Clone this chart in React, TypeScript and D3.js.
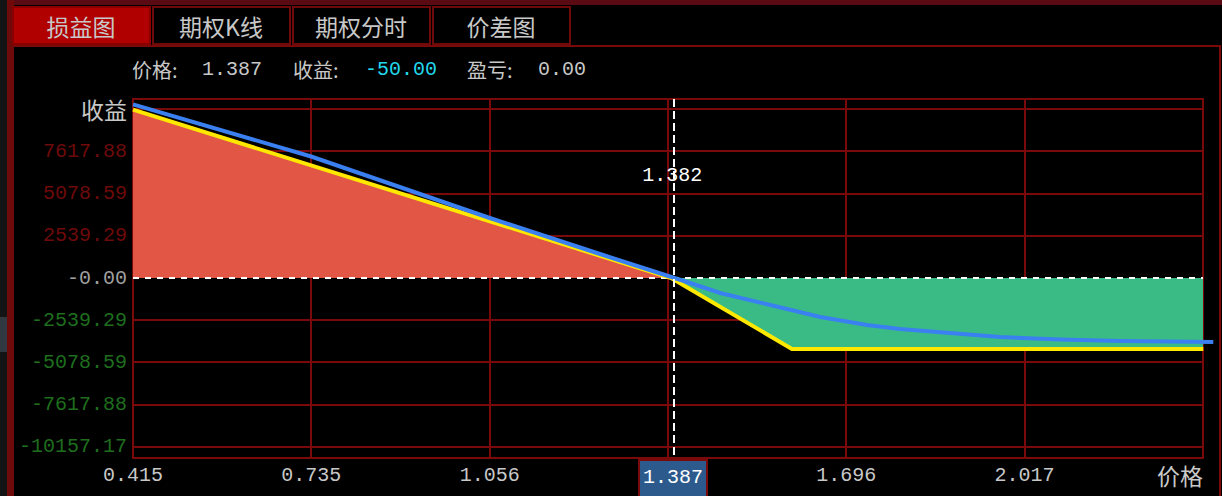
import React from 'react';
import * as d3 from 'd3';

const W = 1222;
const H = 496;

// Profit at expiry, by underlying price
const expiryPrice = [0.415, 1.382, 1.599, 2.338];
const expiryProfit = [10130, 0, -4272, -4272];

// Current theoretical profit, by underlying price
const currentPrice = [0.415, 0.735, 1.056, 1.254, 1.388, 1.416, 1.47, 1.56, 1.65, 1.734, 1.793, 1.883, 1.973, 2.081, 2.189, 2.356];
const currentProfit = [10450, 7311, 3610, 1444, 0, -301, -903, -1625, -2347, -2828, -3069, -3309, -3550, -3700, -3791, -3851];

const yTickValues = [10157.17, 7617.88, 5078.59, 2539.29, 0, -2539.29, -5078.59, -7617.88, -10157.17];
const yTickLabels = ['收益', '7617.88', '5078.59', '2539.29', '-0.00', '-2539.29', '-5078.59', '-7617.88', '-10157.17'];
const xTickValues = [0.415, 0.7355, 1.056, 1.3765, 1.6965, 2.017, 2.3375];
// the tick under the cursor is replaced by the cursor's price box
const xTickLabels = ['0.415', '0.735', '1.056', '', '1.696', '2.017', '价格'];
const tabs = ['损益图', '期权K线', '期权分时', '价差图'];

const cursorPrice = 1.387;
const cursorProfit = -50.0;
const cursorPnl = 0.0;
const breakEven = 1.382;

const MONO = "'Liberation Mono', 'DejaVu Sans Mono', 'Noto Sans CJK SC', monospace";
const CJK = "'Noto Sans CJK SC', sans-serif";
const GRID = '#7a0a0a';
const TEXT = '#c8c8c8';

export default function App() {
  const left = 133;
  const right = 1203;
  const top = 99;
  const bottom = 458;

  const x = d3.scaleLinear().domain([0.415, 2.3375]).range([left, right]);
  const y = d3.scaleLinear().domain([-10831, 10771]).range([bottom, top]);

  const expiry = expiryPrice.map((p, i) => [p, expiryProfit[i]] as [number, number]);
  const current = currentPrice.map((p, i) => [p, currentProfit[i]] as [number, number]);

  const area = d3
    .area<[number, number]>()
    .x((d) => x(d[0]))
    .y0(y(0))
    .y1((d) => y(d[1]));
  const line = d3
    .line<[number, number]>()
    .x((d) => x(d[0]))
    .y((d) => y(d[1]));

  const y0 = y(0);
  const cx = x(cursorPrice);

  const labelColor = (v: number, i: number) => {
    if (i === 0) return TEXT;
    if (v > 0) return '#6e0a0a';
    if (v < 0) return '#1e6e1e';
    return '#a0a0a0';
  };

  return (
    <svg
      width={W}
      height={H}
      style={{ position: 'fixed', left: 0, top: 0, background: '#000', display: 'block' }}
      fontFamily={MONO}
      fontSize={20}
    >
      <rect x={0} y={0} width={W} height={H} fill="#000" />
      {/* window chrome */}
      <rect x={0} y={0} width={W} height={5} fill="#5a0a12" />
      <rect x={0} y={0} width={7} height={H} fill="#141414" />
      <rect x={0} y={317} width={7} height={35} fill="#323840" />
      <rect x={7} y={0} width={7} height={H} fill="#6e0a0a" />
      <line x1={14} x2={1221} y1={46} y2={46} stroke={GRID} strokeWidth={2} shapeRendering="crispEdges" />
      <line x1={1220} x2={1220} y1={46} y2={H} stroke={GRID} strokeWidth={2} shapeRendering="crispEdges" />

      {/* tabs */}
      {tabs.map((t, i) => {
        const tx = 13 + i * 140;
        return (
          <g key={t}>
            <rect
              x={tx}
              y={7}
              width={137}
              height={37}
              fill={i === 0 ? '#b00000' : '#000'}
              stroke={i === 0 ? '#8a0000' : '#6e0a0a'}
              strokeWidth={2}
              shapeRendering="crispEdges"
            />
            <text x={tx + 68} y={26} textAnchor="middle" dominantBaseline="central" fill={TEXT} fontFamily={CJK} fontSize={23}>
              {t}
            </text>
          </g>
        );
      })}

      {/* readout */}
      <text y={69} dominantBaseline="central" fill={TEXT}>
        <tspan x={132} fontFamily={CJK}>价格:</tspan>
        <tspan x={202}>{cursorPrice.toFixed(3)}</tspan>
        <tspan x={293} fontFamily={CJK}>收益:</tspan>
        <tspan x={365} fill="#22d8ec">{cursorProfit.toFixed(2)}</tspan>
        <tspan x={467} fontFamily={CJK}>盈亏:</tspan>
        <tspan x={538}>{cursorPnl.toFixed(2)}</tspan>
      </text>

      {/* grid */}
      <g stroke={GRID} strokeWidth={2} shapeRendering="crispEdges">
        <rect x={left} y={top} width={right - left} height={bottom - top} fill="none" />
        {yTickValues.map((v) => (v === 0 ? null : <line key={v} x1={left} x2={right} y1={y(v)} y2={y(v)} />))}
        {xTickValues.map((v) => (
          <line key={v} x1={x(v)} x2={x(v)} y1={top} y2={bottom} />
        ))}
      </g>

      {/* y labels */}
      {yTickValues.map((v, i) => (
        <text
          key={v}
          x={127}
          y={y(v)}
          textAnchor="end"
          dominantBaseline="central"
          fill={labelColor(v, i)}
          fontFamily={i === 0 ? CJK : MONO}
          fontSize={i === 0 ? 23 : 20}
        >
          {yTickLabels[i]}
        </text>
      ))}

      {/* x labels */}
      {xTickValues.map((v, i) => {
        const last = i === xTickValues.length - 1;
        return xTickLabels[i] ? (
          <text
            key={v}
            x={last ? x(v) - 23 : x(v)}
            y={475}
            textAnchor="middle"
            dominantBaseline="central"
            fill={TEXT}
            fontFamily={last ? CJK : MONO}
            fontSize={last ? 23 : 20}
          >
            {xTickLabels[i]}
          </text>
        ) : null;
      })}

      {/* profit areas at expiry */}
      <defs>
        <clipPath id="above">
          <rect x={left} y={top} width={right - left} height={y0 - top} />
        </clipPath>
        <clipPath id="below">
          <rect x={left} y={y0} width={right - left} height={bottom - y0} />
        </clipPath>
      </defs>
      <path d={area(expiry) ?? ''} fill="#e25646" clipPath="url(#above)" />
      <path d={area(expiry) ?? ''} fill="#3abb85" clipPath="url(#below)" />

      {/* zero line */}
      <line x1={left} x2={right} y1={y0} y2={y0} stroke="#fff" strokeWidth={2} strokeDasharray="6 6" shapeRendering="crispEdges" />

      {/* curves */}
      <path d={line(expiry) ?? ''} fill="none" stroke="#ffe800" strokeWidth={4} />
      <path d={line(current) ?? ''} fill="none" stroke="#3a80f0" strokeWidth={4} />

      {/* crosshair */}
      <line x1={cx} x2={cx} y1={top} y2={460} stroke="#fff" strokeWidth={2} strokeDasharray="8 4" shapeRendering="crispEdges" />
      <text x={x(breakEven) + 1} y={175} textAnchor="middle" dominantBaseline="central" fill="#fff">
        {breakEven.toFixed(3)}
      </text>
      <rect x={cx - 35} y={460} width={68} height={40} fill="#2c5a8c" stroke={GRID} strokeWidth={2} shapeRendering="crispEdges" />
      <text x={cx - 1} y={477} textAnchor="middle" dominantBaseline="central" fill="#fff">
        {cursorPrice.toFixed(3)}
      </text>
    </svg>
  );
}
